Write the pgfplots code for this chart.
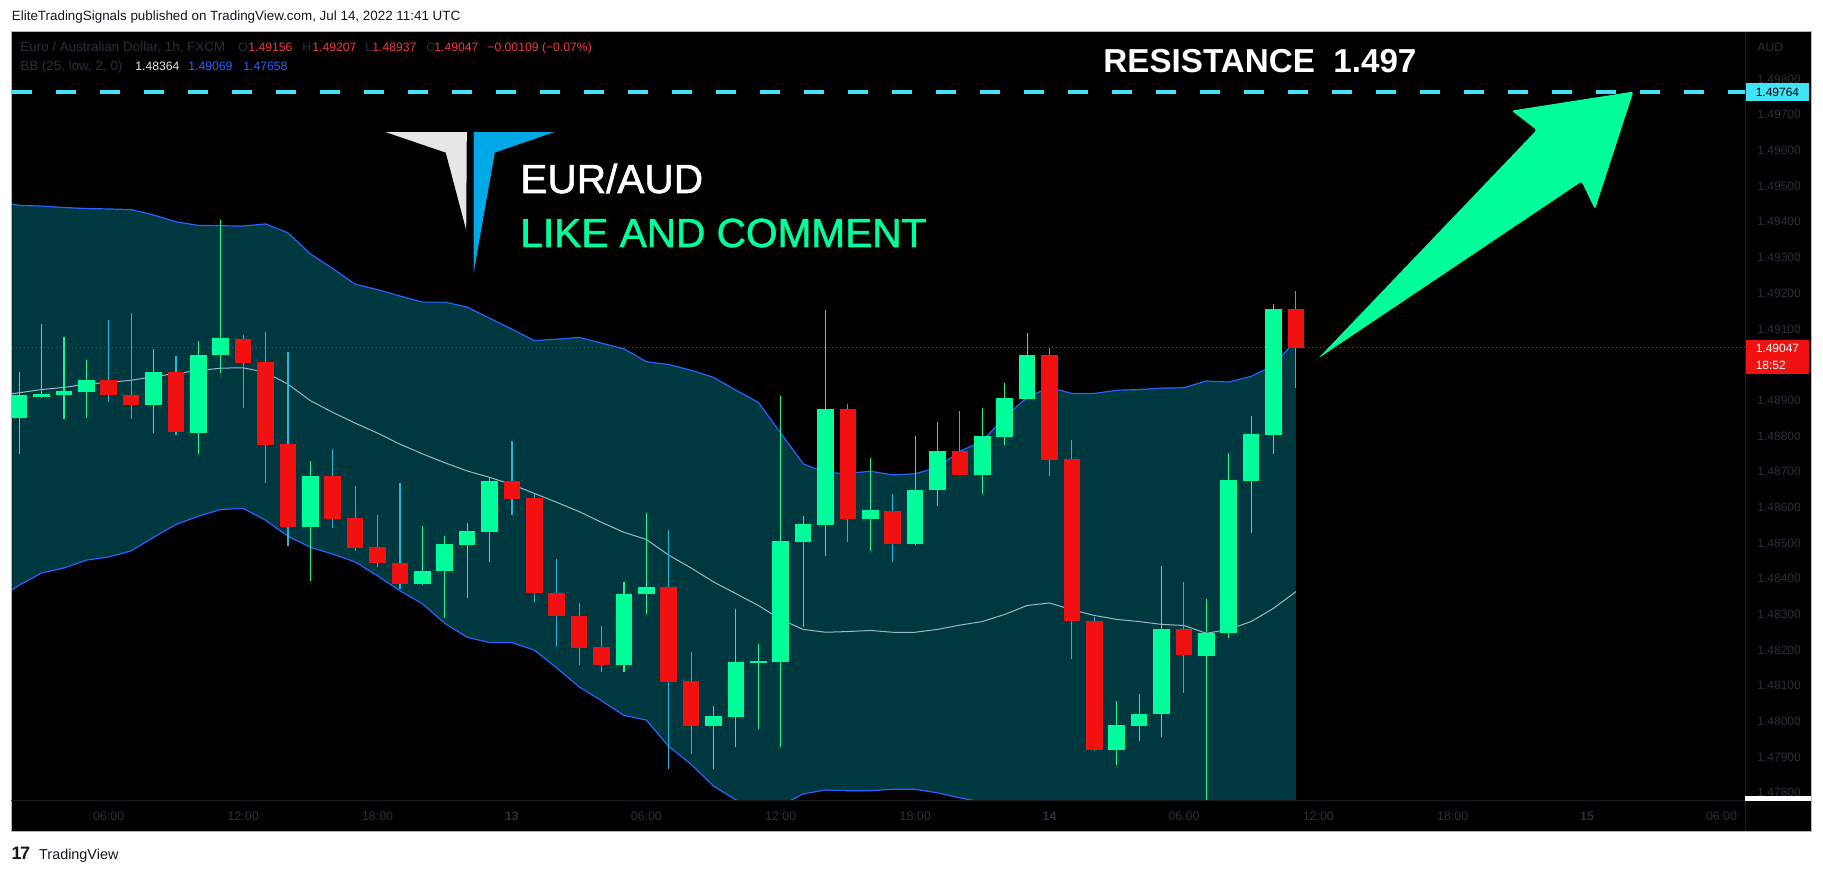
\documentclass[border=0pt]{standalone}
\usepackage{pgfplots}
\pgfplotsset{compat=1.18}
\usepackage{pgfplotstable}
\usepgfplotslibrary{fillbetween}
\usepackage{fontspec}
\setmainfont{Liberation Sans}
\newfontfamily\medfont[FakeBold=1.4]{Liberation Sans}

\definecolor{tvup}{RGB}{0,255,154}
\definecolor{tvdown}{RGB}{242,17,17}
\definecolor{tvwick}{RGB}{28,186,216}
\definecolor{bbfill}{RGB}{0,56,64}
\definecolor{bbline}{RGB}{41,98,255}
\definecolor{bbmid}{RGB}{160,184,190}
\definecolor{resist}{RGB}{64,228,246}
\definecolor{tvdim}{RGB}{44,48,60}
\definecolor{tvred}{RGB}{242,54,69}
\definecolor{tvblue}{RGB}{41,98,255}
\definecolor{framecol}{RGB}{178,181,190}
\definecolor{sepcol}{RGB}{26,28,34}
\definecolor{logowhite}{RGB}{230,230,230}
\definecolor{logoblue}{RGB}{0,168,230}
\definecolor{hdr}{RGB}{19,23,34}

% hourly candles, t = hours since 12 Jul 00:00
\pgfplotstableread{
t o h l c
2 1.48851 1.48980 1.48750 1.48914
3 1.48910 1.49115 1.48908 1.48919
4 1.48916 1.49078 1.48849 1.48927
5 1.48925 1.49014 1.48851 1.48957
8 1.48888 1.49045 1.48807 1.48980
10 1.48811 1.49067 1.48750 1.49028
11 1.49026 1.49404 1.48976 1.49073
15 1.48546 1.48730 1.48394 1.48688
20 1.48386 1.48550 1.48384 1.48424
21 1.48421 1.48521 1.48290 1.48497
22 1.48495 1.48556 1.48346 1.48534
23 1.48531 1.48684 1.48447 1.48674
29 1.48160 1.48390 1.48139 1.48359
30 1.48357 1.48584 1.48301 1.48376
33 1.47989 1.48043 1.47866 1.48016
34 1.48014 1.48317 1.47930 1.48168
35 1.48166 1.48218 1.47980 1.48171
36 1.48166 1.48913 1.47930 1.48505
37 1.48504 1.48578 1.48266 1.48552
38 1.48551 1.49153 1.48464 1.48876
40 1.48568 1.48741 1.48478 1.48592
42 1.48498 1.48800 1.48495 1.48651
43 1.48649 1.48839 1.48605 1.48758
45 1.48691 1.48879 1.48638 1.48800
46 1.48798 1.48949 1.48776 1.48907
47 1.48905 1.49089 1.48903 1.49028
51 1.47921 1.48058 1.47879 1.47990
52 1.47989 1.48078 1.47947 1.48021
53 1.48020 1.48435 1.47958 1.48260
55 1.48186 1.48345 1.47760 1.48249
56 1.48248 1.48753 1.48234 1.48677
57 1.48675 1.48856 1.48528 1.48806
58 1.48802 1.49171 1.48750 1.49157
}\upcandles

\pgfplotstableread{
t o h l c
6 1.48957 1.49126 1.48894 1.48914
7 1.48915 1.49146 1.48849 1.48888
9 1.48980 1.49025 1.48803 1.48811
12 1.49073 1.49084 1.48880 1.49006
13 1.49008 1.49093 1.48669 1.48776
14 1.48778 1.49036 1.48492 1.48546
16 1.48688 1.48764 1.48544 1.48568
17 1.48569 1.48662 1.48478 1.48487
18 1.48488 1.48578 1.48432 1.48445
19 1.48446 1.48670 1.48373 1.48386
24 1.48674 1.48786 1.48579 1.48624
25 1.48626 1.48641 1.48335 1.48360
26 1.48361 1.48455 1.48211 1.48296
27 1.48297 1.48334 1.48158 1.48208
28 1.48210 1.48266 1.48139 1.48160
31 1.48376 1.48536 1.47866 1.48112
32 1.48115 1.48196 1.47910 1.47989
39 1.48876 1.48891 1.48504 1.48568
41 1.48592 1.48637 1.48446 1.48498
44 1.48758 1.48870 1.48689 1.48691
48 1.49028 1.49047 1.48689 1.48734
49 1.48736 1.48789 1.48175 1.48281
50 1.48282 1.48295 1.47919 1.47921
54 1.48260 1.48392 1.48081 1.48186
59 1.49156 1.49207 1.48937 1.49047
}\downcandles

% Bollinger bands BB(25, low, 2)
\pgfplotstableread{
t up mid lo
1 1.49458 1.48912 1.48340
2 1.49446 1.48921 1.48382
3 1.49444 1.48930 1.48416
4 1.49440 1.48936 1.48430
5 1.49437 1.48945 1.48452
6 1.49436 1.48950 1.48461
7 1.49434 1.48956 1.48478
8 1.49419 1.48966 1.48516
9 1.49400 1.48975 1.48552
10 1.49390 1.48983 1.48575
11 1.49389 1.48990 1.48594
12 1.49388 1.48991 1.48597
13 1.49394 1.48978 1.48564
14 1.49369 1.48945 1.48519
15 1.49310 1.48899 1.48488
16 1.49269 1.48866 1.48469
17 1.49225 1.48836 1.48447
18 1.49210 1.48808 1.48408
19 1.49192 1.48777 1.48366
20 1.49175 1.48750 1.48330
21 1.49175 1.48725 1.48275
22 1.49161 1.48702 1.48236
23 1.49130 1.48684 1.48221
24 1.49099 1.48664 1.48221
25 1.49067 1.48639 1.48200
26 1.49071 1.48614 1.48150
27 1.49076 1.48588 1.48097
28 1.49060 1.48558 1.48058
29 1.49044 1.48530 1.48017
30 1.49008 1.48510 1.48004
31 1.49000 1.48466 1.47930
32 1.48984 1.48430 1.47880
33 1.48964 1.48391 1.47819
34 1.48928 1.48358 1.47780
35 1.48894 1.48325 1.47756
36 1.48808 1.48286 1.47764
37 1.48722 1.48258 1.47797
38 1.48697 1.48250 1.47808
39 1.48695 1.48252 1.47806
40 1.48701 1.48255 1.47806
41 1.48691 1.48250 1.47810
42 1.48694 1.48250 1.47810
43 1.48712 1.48258 1.47800
44 1.48757 1.48270 1.47786
45 1.48786 1.48280 1.47774
46 1.48852 1.48300 1.47748
47 1.48908 1.48325 1.47742
48 1.48936 1.48332 1.47728
49 1.48919 1.48313 1.47707
50 1.48919 1.48297 1.47675
51 1.48928 1.48286 1.47644
52 1.48930 1.48280 1.47630
53 1.48934 1.48272 1.47610
54 1.48935 1.48269 1.47603
55 1.48954 1.48247 1.47540
56 1.48951 1.48258 1.47565
57 1.48967 1.48280 1.47593
58 1.48997 1.48317 1.47637
59 1.49069 1.48364 1.47658
}\bands

\begin{document}
\begin{tikzpicture}
% page and chart frame, leaving the plot area open so the band fill (drawn below the main layer) shows
\fill[white, even odd rule] (0,0) rectangle (911.5pt,436pt) (5.5pt,20.5pt) rectangle (905.5pt,420pt);
\fill[black, even odd rule] (5.5pt,20.5pt) rectangle (905.5pt,420pt) (6pt,36pt) rectangle (872.5pt,419.5pt);
\draw[framecol, line width=0.5pt] (5.5pt,20.5pt) rectangle (905.5pt,420pt);

\begin{axis}[
  at={(6pt,36pt)}, anchor=south west,
  scale only axis, width=866.5pt, height=383.5pt,
  xmin=1.68, xmax=79.05, ymin=1.4778, ymax=1.49929,
  clip bounding box=upper bound,
  axis background/.style={fill=black},
  axis line style={draw=none},
  major tick length=0pt,
  xtick={6,12,18,24,30,36,42,48,54,60,66,72,78},
  xticklabels={06:00,12:00,18:00,\textbf{13},06:00,12:00,18:00,\textbf{14},06:00,12:00,18:00,\textbf{15},06:00},
  xticklabel style={font=\fontsize{6.2}{7}\selectfont, text=tvdim, anchor=center, inner sep=0pt, yshift=-8pt},
  ytick={1.478,1.479,1.480,1.481,1.482,1.483,1.484,1.485,1.486,1.487,1.488,1.489,1.491,1.492,1.493,1.494,1.495,1.496,1.497,1.498},
  yticklabel pos=right,
  scaled y ticks=false,
  yticklabel style={font=\fontsize{6}{7}\selectfont, text=tvdim, anchor=west, inner sep=0pt, xshift=6pt,
    /pgf/number format/fixed, /pgf/number format/fixed zerofill,
    /pgf/number format/precision=5, /pgf/number format/assume math mode=true},
]
% Bollinger band area
\addplot[name path=bbup, draw=none, forget plot] table[x=t, y=up]{\bands};
\addplot[name path=bblo, draw=none, forget plot] table[x=t, y=lo]{\bands};
\addplot[fill=bbfill, draw=none, forget plot] fill between[of=bbup and bblo];
\addplot[bbline, line width=0.6pt, forget plot] table[x=t, y=up]{\bands};
\addplot[bbline, line width=0.6pt, forget plot] table[x=t, y=lo]{\bands};
\addplot[bbmid, line width=0.5pt, forget plot] table[x=t, y=mid]{\bands};

% last price and resistance level
\addplot[tvdown, line width=0.4pt, dash pattern=on 0.6pt off 1.4pt, forget plot] coordinates {(1.68,1.49047) (79.05,1.49047)};
\addplot[resist, line width=2pt, dash pattern=on 10pt off 12pt, forget plot] coordinates {(1.68,1.49764) (79.05,1.49764)};

% wicks
\addplot[draw=none, mark=none, forget plot, error bars/.cd, y dir=both, y explicit, error mark=none,
  error bar style={draw=tvup, line width=0.55pt}]
  table[x=t, y expr={(\thisrow{h}+\thisrow{l})/2}, y error expr={(\thisrow{h}-\thisrow{l})/2}]{\upcandles};
\addplot[draw=none, mark=none, forget plot, error bars/.cd, y dir=both, y explicit, error mark=none,
  error bar style={draw=tvwick, line width=0.55pt}]
  table[x=t, y expr={(\thisrow{h}+\thisrow{l})/2}, y error expr={(\thisrow{h}-\thisrow{l})/2}]{\downcandles};
% bodies
\addplot[draw=none, mark=none, forget plot, error bars/.cd, y dir=both, y explicit, error mark=none,
  error bar style={draw=tvup, line width=8.3pt}]
  table[x=t, y expr={(\thisrow{o}+\thisrow{c})/2}, y error expr={abs(\thisrow{c}-\thisrow{o})/2}]{\upcandles};
\addplot[draw=none, mark=none, forget plot, error bars/.cd, y dir=both, y explicit, error mark=none,
  error bar style={draw=tvdown, line width=8.3pt}]
  table[x=t, y expr={(\thisrow{o}+\thisrow{c})/2}, y error expr={abs(\thisrow{c}-\thisrow{o})/2}]{\downcandles};

\coordinate (reslab) at (axis cs:79.05,1.49764);
\coordinate (lastlab) at (axis cs:79.05,1.49047);
\end{axis}

% price labels on the scale
\node[fill=resist, text=black, inner sep=0pt, minimum width=32pt, minimum height=9.2pt, anchor=west,
  font=\fontsize{6}{7}\selectfont] at (reslab) {1.49764};
\node[fill=tvdown, text=white, inner sep=0pt, minimum width=32pt, minimum height=17pt, anchor=north west,
  font=\fontsize{6}{7}\selectfont, align=left] at ([yshift=4.2pt]lastlab) {1.49047\\[1.2pt]18:52};

% separators on the frame
\draw[sepcol, line width=0.5pt] (872.5pt,20.5pt) -- (872.5pt,420pt);
\draw[sepcol, line width=0.5pt] (5.5pt,36pt) -- (872.5pt,36pt);
\fill[white] (872.5pt,35.5pt) rectangle (905.5pt,38pt);

% legend rows
\node[anchor=base west, inner sep=0pt, text=tvdim, font=\fontsize{6.7}{8}\selectfont] at (10pt,410pt) {Euro / Australian Dollar, 1h, FXCM};
\begin{scope}[every node/.style={anchor=base west, inner sep=0pt, font=\fontsize{6.1}{7}\selectfont}]
\node[text=tvdim] at (119pt,410pt) {O};
\node[text=tvred] at (124pt,410pt) {1.49156};
\node[text=tvdim] at (151pt,410pt) {H};
\node[text=tvred] at (156pt,410pt) {1.49207};
\node[text=tvdim] at (182.5pt,410pt) {L};
\node[text=tvred] at (186pt,410pt) {1.48937};
\node[text=tvdim] at (213pt,410pt) {C};
\node[text=tvred] at (217pt,410pt) {1.49047};
\node[text=tvred] at (243.5pt,410pt) {−0.00109 (−0.07\%)};
\node[text=tvdim, font=\fontsize{6.7}{8}\selectfont] at (10pt,400.7pt) {BB (25, low, 2, 0)};
\node[text=logowhite] at (67.5pt,400.7pt) {1.48364};
\node[text=tvblue] at (94pt,400.7pt) {1.49069};
\node[text=tvblue] at (121.5pt,400.7pt) {1.47658};
\node[text=tvdim] at (878.5pt,410pt) {AUD};
\end{scope}

% header and footer
\node[anchor=base west, inner sep=0pt, text=hdr, font=\fontsize{6.7}{8}\selectfont] at (5.75pt,425.5pt)
  {EliteTradingSignals published on TradingView.com, Jul 14, 2022 11:41 UTC};
\node[anchor=base west, inner sep=0pt, text=hdr, font=\fontsize{9}{10}\selectfont\bfseries] at (5.6pt,6.3pt) {1\kern-0.08em7};
\node[anchor=base west, inner sep=0pt, text=hdr, font=\fontsize{7.2}{8}\selectfont] at (19.4pt,6.5pt) {TradingView};

% logo
\fill[logowhite] (193pt,369.9pt) -- (233.4pt,369.9pt) -- (233.1pt,321pt) -- (222.9pt,359.7pt) -- cycle;
\fill[logoblue] (236.8pt,369.9pt) -- (277pt,369.9pt) -- (247.4pt,359.7pt) -- (236.8pt,299.4pt) -- cycle;

% overlay texts
\node[anchor=base west, inner sep=0pt, text=white, font=\fontsize{20.3}{24}\medfont] at (260pt,339.5pt) {EUR/AUD};
\node[anchor=base west, inner sep=0pt, text=tvup, font=\fontsize{20.3}{24}\medfont] at (260pt,312.5pt) {LIKE AND COMMENT};
\node[anchor=base west, inner sep=0pt, text=white, font=\fontsize{16.6}{20}\selectfont\bfseries] at (551.5pt,399.5pt) {RESISTANCE\ \ 1.497};

% arrow
\fill[tvup, rounded corners=1.2pt] (659.2pt,256.9pt) -- (768.3pt,371pt) -- (755.8pt,380.7pt) -- (816.7pt,390.2pt)
  -- (797.5pt,331.3pt) -- (790.8pt,345.2pt) -- cycle;

\pgfresetboundingbox
\path[use as bounding box] (0,0) rectangle (911.5pt,436pt);
\end{tikzpicture}
\end{document}
